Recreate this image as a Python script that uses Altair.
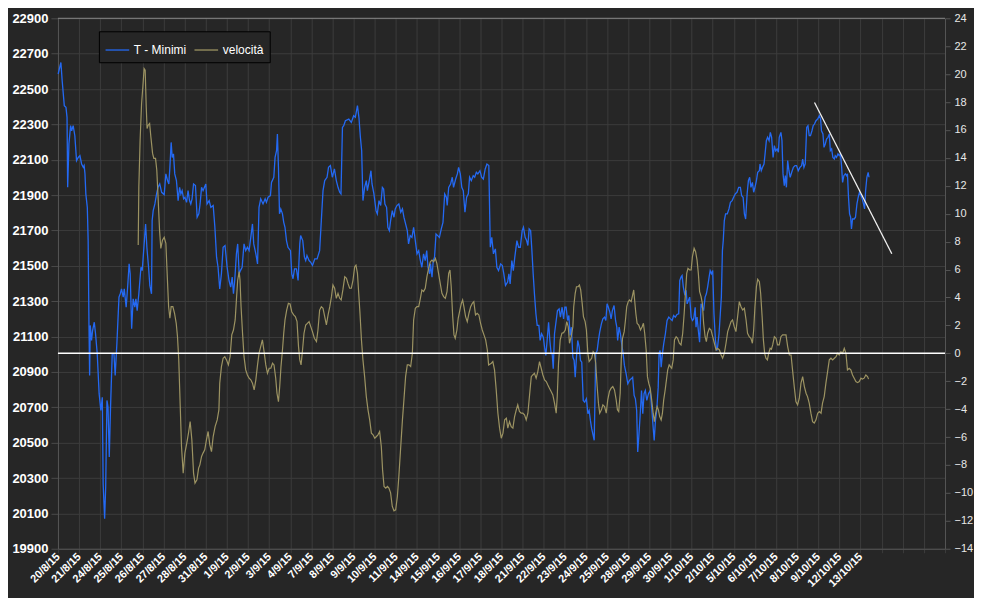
import altair as alt
import pandas as pd

FONT = "Liberation Sans"

# x-axis day labels (one per trading day; last four slots empty)
day_labels = ["20/8/15", "21/8/15", "24/8/15", "25/8/15", "26/8/15", "27/8/15", "28/8/15",
              "31/8/15", "1/9/15", "2/9/15", "3/9/15", "4/9/15", "7/9/15", "8/9/15", "9/9/15",
              "10/9/15", "11/9/15", "14/9/15", "15/9/15", "16/9/15", "17/9/15", "18/9/15",
              "21/9/15", "22/9/15", "23/9/15", "24/9/15", "25/9/15", "28/9/15", "29/9/15",
              "30/9/15", "1/10/15", "2/10/15", "5/10/15", "6/10/15", "7/10/15", "8/10/15",
              "9/10/15", "12/10/15", "13/10/15", "", "", "", ""]

# T - Minimi: (day position, value)
minimi = [
    (0.01, 22585), (0.14, 22650), (0.20, 22547), (0.30, 22406), (0.38, 22396), (0.43, 22340), (0.46, 21944),
    (0.52, 22189), (0.60, 22293), (0.65, 22264), (0.72, 22293), (0.80, 22236), (0.88, 22095), (0.96, 22113),
    (1.04, 22123), (1.12, 22076), (1.20, 22057), (1.24, 22067), (1.28, 22020), (1.32, 21907), (1.39, 21831),
    (1.43, 21643), (1.47, 21153), (1.50, 20880), (1.53, 21163), (1.59, 21078), (1.64, 21134), (1.72, 21181),
    (1.78, 21116), (1.86, 21003), (1.95, 20777), (2.03, 20682), (2.10, 20757), (2.14, 20268), (2.21, 20070),
    (2.26, 20249), (2.32, 20739), (2.37, 20701), (2.43, 20419), (2.49, 20701), (2.57, 21003), (2.65, 21003),
    (2.71, 20880), (2.79, 21059), (2.89, 21323), (2.95, 21342), (3.01, 21370), (3.09, 21323), (3.14, 21370),
    (3.23, 21266), (3.30, 21380), (3.37, 21511), (3.42, 21455), (3.49, 21144), (3.56, 21313), (3.64, 21266),
    (3.69, 21313), (3.75, 21247), (3.83, 21342), (3.93, 21492), (3.99, 21473), (4.07, 21605), (4.15, 21737),
    (4.21, 21605), (4.29, 21492), (4.35, 21389), (4.43, 21342), (4.46, 21756), (4.51, 21812), (4.59, 21850),
    (4.67, 21907), (4.74, 21944), (4.82, 21963), (4.91, 21916), (5.03, 21903), (5.11, 22020), (5.19, 21982),
    (5.25, 21963), (5.30, 22057), (5.36, 22198), (5.41, 22113), (5.47, 22133), (5.53, 22020), (5.61, 21982),
    (5.69, 21869), (5.76, 21944), (5.82, 21907), (5.88, 21925), (5.95, 21879), (6.01, 21888), (6.09, 21859),
    (6.16, 21925), (6.23, 21869), (6.29, 21850), (6.35, 21879), (6.42, 21963), (6.51, 21954), (6.59, 21775),
    (6.67, 21794), (6.73, 21850), (6.80, 21944), (6.87, 21925), (7.00, 21963), (7.06, 21850), (7.16, 21869),
    (7.24, 21831), (7.35, 21841), (7.43, 21718), (7.51, 21549), (7.58, 21492), (7.66, 21370), (7.74, 21455),
    (7.82, 21605), (7.91, 21615), (8.01, 21492), (8.10, 21417), (8.18, 21380), (8.25, 21436), (8.31, 21342),
    (8.37, 21417), (8.45, 21568), (8.51, 21624), (8.58, 21455), (8.64, 21473), (8.72, 21492), (8.81, 21624),
    (8.89, 21586), (8.97, 21605), (9.05, 21586), (9.13, 21661), (9.21, 21737), (9.27, 21624), (9.37, 21568),
    (9.45, 21511), (9.52, 21831), (9.60, 21879), (9.71, 21850), (9.81, 21879), (9.87, 21859), (9.95, 21888),
    (10.06, 21897), (10.11, 21972), (10.22, 22001), (10.28, 22113), (10.35, 22151), (10.39, 22246),
    (10.44, 22057), (10.49, 21794), (10.55, 21822), (10.63, 21794), (10.69, 21746), (10.75, 21718),
    (10.82, 21643), (10.89, 21605), (11.01, 21586), (11.07, 21455), (11.13, 21427), (11.20, 21483),
    (11.29, 21483), (11.37, 21417), (11.45, 21624), (11.49, 21671), (11.59, 21643), (11.67, 21549),
    (11.73, 21530), (11.79, 21558), (11.89, 21530), (11.97, 21520), (12.05, 21502), (12.16, 21539),
    (12.27, 21539), (12.39, 21586), (12.47, 21756), (12.55, 21925), (12.63, 21982), (12.74, 22001),
    (12.81, 22057), (12.90, 22067), (12.99, 22001), (13.09, 22048), (13.18, 21982), (13.26, 21944),
    (13.34, 21916), (13.40, 21907), (13.47, 22283), (13.53, 22293), (13.61, 22321), (13.77, 22330),
    (13.89, 22311), (14.00, 22349), (14.08, 22340), (14.18, 22406), (14.25, 22340), (14.32, 22227),
    (14.38, 22151), (14.44, 21869), (14.52, 21944), (14.60, 21982), (14.65, 21925), (14.74, 21982),
    (14.82, 22038), (14.87, 21963), (14.96, 21907), (15.06, 21812), (15.12, 21794), (15.20, 21869),
    (15.28, 21841), (15.36, 21944), (15.42, 21935), (15.48, 21850), (15.56, 21831), (15.62, 21718),
    (15.69, 21699), (15.75, 21756), (15.83, 21812), (15.91, 21775), (15.97, 21822), (16.05, 21841),
    (16.14, 21850), (16.23, 21803), (16.31, 21822), (16.38, 21775), (16.46, 21737), (16.54, 21699),
    (16.60, 21624), (16.68, 21671), (16.76, 21661), (16.84, 21718), (16.92, 21643), (17.00, 21568),
    (17.08, 21586), (17.16, 21530), (17.23, 21492), (17.31, 21568), (17.39, 21530), (17.46, 21586),
    (17.52, 21492), (17.60, 21455), (17.64, 21511), (17.71, 21436), (17.77, 21530), (17.83, 21549),
    (17.90, 21680), (17.98, 21671), (18.06, 21661), (18.15, 21709), (18.23, 21746), (18.31, 21907),
    (18.39, 21888), (18.43, 21841), (18.50, 21944), (18.59, 21963), (18.67, 22001), (18.73, 21944),
    (18.83, 21991), (18.91, 22020), (18.97, 22057), (19.05, 22020), (19.12, 21944), (19.19, 21925),
    (19.27, 21803), (19.35, 21888), (19.43, 21907), (19.49, 22001), (19.57, 21982), (19.66, 22010),
    (19.73, 22001), (19.81, 22029), (19.88, 22020), (19.98, 22038), (20.06, 22001), (20.14, 21991),
    (20.23, 22048), (20.31, 22076), (20.40, 22067), (20.47, 21605), (20.54, 21661), (20.62, 21568),
    (20.71, 21596), (20.78, 21492), (20.86, 21473), (20.96, 21511), (21.04, 21502), (21.11, 21455),
    (21.19, 21389), (21.29, 21408), (21.35, 21455), (21.41, 21398), (21.49, 21530), (21.56, 21473),
    (21.63, 21549), (21.73, 21643), (21.81, 21605), (21.89, 21605), (21.98, 21699), (22.04, 21718),
    (22.12, 21661), (22.19, 21643), (22.25, 21615), (22.31, 21709), (22.38, 21699), (22.44, 21586),
    (22.50, 21455), (22.56, 21342), (22.63, 21229), (22.69, 21163), (22.77, 21163), (22.83, 21078),
    (22.90, 21116), (22.98, 21097), (23.04, 21040), (23.10, 20993), (23.16, 21078), (23.23, 21181),
    (23.29, 21078), (23.35, 21003), (23.40, 21003), (23.45, 20918), (23.51, 21116), (23.59, 21191),
    (23.65, 21247), (23.73, 21257), (23.79, 21210), (23.87, 21266), (23.94, 21200), (24.00, 21266),
    (24.06, 21266), (24.13, 21191), (24.19, 21219), (24.25, 21106), (24.31, 21153), (24.38, 20983),
    (24.44, 20965), (24.49, 20870), (24.55, 20983), (24.61, 21078), (24.68, 21040), (24.74, 20965),
    (24.80, 20955), (24.87, 20739), (24.94, 20729), (25.02, 20748), (25.09, 20664), (25.15, 20682),
    (25.21, 20626), (25.27, 20579), (25.34, 20541), (25.39, 20513), (25.43, 20777), (25.46, 21003),
    (25.53, 21021), (25.59, 21078), (25.65, 21125), (25.73, 21172), (25.80, 21200), (25.88, 21210),
    (25.94, 21191), (26.00, 21285), (26.06, 21266), (26.13, 21238), (26.19, 21200), (26.25, 21247),
    (26.33, 21276), (26.40, 21191), (26.46, 21153), (26.50, 21078), (26.57, 21153), (26.63, 21116),
    (26.69, 21059), (26.76, 21003), (26.82, 20937), (26.90, 20890), (26.98, 20833), (27.06, 20852),
    (27.14, 20861), (27.21, 20870), (27.28, 20767), (27.34, 20748), (27.40, 20682), (27.45, 20447),
    (27.50, 20532), (27.56, 20645), (27.63, 20795), (27.69, 20664), (27.75, 20777), (27.81, 20795),
    (27.88, 20739), (27.96, 20777), (28.04, 20795), (28.11, 20701), (28.18, 20588), (28.23, 20513),
    (28.29, 20626), (28.35, 20682), (28.42, 20814), (28.46, 21003), (28.51, 21021), (28.56, 20927),
    (28.62, 21003), (28.68, 21059), (28.76, 21116), (28.84, 21191), (28.92, 21210), (29.00, 21200),
    (29.08, 21191), (29.15, 21219), (29.23, 21210), (29.31, 21225), (29.39, 21229), (29.44, 21417),
    (29.50, 21436), (29.55, 21445), (29.61, 21380), (29.67, 21342), (29.74, 21361), (29.79, 21285),
    (29.85, 21304), (29.91, 21323), (29.98, 21210), (30.04, 21191), (30.10, 21200), (30.17, 21266),
    (30.21, 21153), (30.26, 21210), (30.32, 21134), (30.38, 21068), (30.45, 21285), (30.51, 21266),
    (30.57, 21247), (30.64, 21323), (30.70, 21342), (30.76, 21380), (30.83, 21436), (30.88, 21473),
    (30.94, 21455), (31.00, 21473), (31.06, 21229), (31.13, 21078), (31.19, 21021), (31.23, 21040),
    (31.30, 21116), (31.36, 21229), (31.41, 21323), (31.46, 21586), (31.50, 21643), (31.55, 21756),
    (31.61, 21794), (31.69, 21794), (31.77, 21822), (31.84, 21859), (31.92, 21869), (31.99, 21888),
    (32.07, 21907), (32.15, 21916), (32.23, 21944), (32.31, 21944), (32.37, 21897), (32.44, 21888),
    (32.50, 21794), (32.56, 21765), (32.63, 21907), (32.69, 21982), (32.75, 22001), (32.81, 21944),
    (32.88, 21972), (32.94, 21916), (33.00, 21944), (33.07, 21982), (33.13, 22029), (33.21, 22038),
    (33.24, 22076), (33.30, 22038), (33.36, 22057), (33.43, 22076), (33.48, 22133), (33.54, 22208),
    (33.60, 22227), (33.67, 22208), (33.73, 22255), (33.79, 22227), (33.86, 22113), (33.92, 22180),
    (33.98, 22151), (34.05, 22161), (34.11, 22142), (34.15, 22227), (34.23, 22255), (34.28, 22208),
    (34.33, 22020), (34.39, 21954), (34.44, 22010), (34.49, 21944), (34.55, 22095), (34.61, 22038),
    (34.67, 22001), (34.74, 22029), (34.82, 22057), (34.90, 22067), (34.97, 22067), (35.05, 22038),
    (35.13, 22057), (35.21, 22067), (35.26, 22104), (35.32, 22057), (35.38, 22076), (35.45, 22283),
    (35.51, 22293), (35.57, 22236), (35.63, 22236), (35.70, 22264), (35.76, 22293), (35.82, 22302),
    (35.89, 22321), (35.97, 22330), (36.05, 22349), (36.11, 22330), (36.15, 22264), (36.22, 22246),
    (36.27, 22170), (36.33, 22189), (36.39, 22217), (36.46, 22227), (36.52, 22246), (36.57, 22151),
    (36.63, 22161), (36.69, 22113), (36.76, 22104), (36.80, 22123), (36.86, 22113), (36.93, 22133),
    (36.99, 22123), (37.05, 22133), (37.10, 22067), (37.15, 21972), (37.21, 22010), (37.28, 22020),
    (37.34, 22010), (37.38, 22020), (37.43, 21888), (37.48, 21794), (37.53, 21775), (37.57, 21709),
    (37.62, 21765), (37.70, 21765), (37.76, 21775), (37.83, 21850), (37.89, 21888), (37.95, 21916),
    (38.02, 21897), (38.08, 21879), (38.14, 21850), (38.19, 21822), (38.24, 21925), (38.30, 22001),
    (38.36, 22029), (38.40, 22001),
]

# velocità: (day position, value)
velocita = [
    (3.80, 7.76), (3.83, 11.93), (3.89, 15.27), (3.96, 17.9), (4.02, 19.1), (4.08, 20.4), (4.13, 20.28),
    (4.18, 17.65), (4.22, 16.1), (4.27, 16.34), (4.34, 16.46), (4.40, 15.5), (4.48, 14.32), (4.54, 13.96),
    (4.62, 13.96), (4.68, 13.12), (4.74, 11.21), (4.81, 8.83), (4.87, 7.52), (4.95, 8.11), (5.03, 8.31),
    (5.11, 7.88), (5.17, 5.73), (5.24, 3.34), (5.30, 2.51), (5.36, 3.34), (5.44, 3.34), (5.52, 2.87),
    (5.60, 2.15), (5.66, 1.19), (5.72, -0.47), (5.79, -3.81), (5.85, -6.68), (5.93, -8.58), (6.01, -7.15),
    (6.10, -6.43), (6.18, -5.72), (6.26, -4.89), (6.34, -6.2), (6.42, -8.58), (6.49, -9.3), (6.58, -9.06),
    (6.66, -8.22), (6.72, -7.99), (6.80, -7.39), (6.87, -7.15), (6.95, -6.91), (7.03, -6.2), (7.11, -5.6),
    (7.19, -6.56), (7.27, -7.04), (7.35, -5.96), (7.44, -5.25), (7.54, -4.77), (7.62, -4.05), (7.66, -2.14),
    (7.74, -0.95), (7.82, -0.35), (7.90, -0.24), (7.98, -0.47), (8.07, -0.83), (8.15, -0.24), (8.23, 1.32),
    (8.31, 1.67), (8.39, 2.39), (8.45, 3.82), (8.51, 5.25), (8.58, 5.85), (8.62, 5.25), (8.67, 3.34),
    (8.74, 1.44), (8.81, -0.24), (8.89, -1.19), (8.97, -1.55), (9.05, -1.78), (9.13, -1.9), (9.21, -2.14),
    (9.29, -2.62), (9.37, -1.9), (9.45, -0.83), (9.52, 0.0), (9.60, 0.48), (9.68, 0.96), (9.76, 0.12),
    (9.84, -0.83), (9.92, -1.43), (10.00, -1.07), (10.08, -1.07), (10.16, -0.71), (10.23, -0.83),
    (10.31, -1.78), (10.37, -2.86), (10.44, -3.46), (10.50, -2.38), (10.56, -0.95), (10.63, 0.24),
    (10.69, 1.44), (10.75, 2.39), (10.83, 3.1), (10.91, 3.58), (10.99, 3.53), (11.07, 2.98), (11.16, 2.75),
    (11.24, 2.63), (11.32, 2.27), (11.39, 0.48), (11.45, -0.47), (11.51, -0.83), (11.58, 0.24), (11.65, 1.44),
    (11.73, 2.03), (11.81, 2.15), (11.89, 2.27), (11.97, 1.91), (12.05, 1.55), (12.14, 1.08), (12.24, 0.84),
    (12.31, 1.67), (12.39, 3.1), (12.47, 3.34), (12.55, 3.22), (12.63, 2.63), (12.71, 2.03), (12.79, 2.75),
    (12.87, 3.34), (12.95, 4.06), (13.02, 4.89), (13.10, 4.66), (13.18, 3.94), (13.26, 4.3), (13.34, 3.94),
    (13.41, 3.82), (13.49, 4.54), (13.58, 5.49), (13.66, 5.37), (13.73, 5.01), (13.81, 4.66), (13.89, 4.66),
    (13.97, 5.25), (14.05, 6.2), (14.11, 6.32), (14.18, 5.73), (14.24, 4.3), (14.30, 2.87), (14.37, 0.96),
    (14.44, -0.47), (14.52, -1.67), (14.60, -3.1), (14.68, -4.05), (14.76, -4.77), (14.84, -5.72),
    (14.92, -5.84), (15.00, -6.08), (15.08, -5.96), (15.15, -5.84), (15.23, -5.6), (15.31, -6.68),
    (15.37, -8.35), (15.44, -9.54), (15.52, -9.66), (15.60, -9.54), (15.67, -9.66), (15.75, -10.0),
    (15.83, -10.97), (15.91, -11.28), (15.99, -11.21), (16.07, -10.26), (16.14, -8.82), (16.23, -6.68),
    (16.31, -4.77), (16.38, -3.34), (16.46, -1.67), (16.54, -0.83), (16.62, -0.83), (16.70, -0.95),
    (16.78, 0.0), (16.84, 2.39), (16.92, 3.22), (17.00, 3.34), (17.08, 3.34), (17.16, 3.94), (17.23, 4.54),
    (17.31, 4.42), (17.39, 4.66), (17.47, 5.49), (17.55, 6.08), (17.63, 6.56), (17.71, 6.68), (17.79, 6.56),
    (17.87, 6.8), (17.94, 6.44), (18.02, 5.73), (18.10, 5.01), (18.18, 4.3), (18.26, 4.06), (18.34, 3.94),
    (18.42, 4.42), (18.50, 5.73), (18.56, 5.97), (18.62, 4.77), (18.69, 2.63), (18.75, 1.32), (18.81, 1.08),
    (18.89, 1.67), (18.95, 2.51), (19.03, 3.1), (19.10, 3.58), (19.16, 3.82), (19.22, 3.34), (19.30, 2.63),
    (19.38, 2.27), (19.46, 2.87), (19.54, 3.34), (19.62, 3.58), (19.69, 3.7), (19.77, 2.75), (19.85, 2.87),
    (19.93, 2.75), (20.01, 2.15), (20.09, 1.67), (20.17, 1.32), (20.25, 0.96), (20.33, 0.24), (20.39, -0.83),
    (20.52, -0.71), (20.59, -0.59), (20.67, -1.19), (20.75, -2.62), (20.83, -4.29), (20.91, -5.36),
    (20.99, -6.08), (21.07, -5.72), (21.15, -4.77), (21.23, -4.65), (21.30, -5.36), (21.38, -4.89),
    (21.46, -5.25), (21.54, -5.36), (21.62, -4.53), (21.70, -4.05), (21.77, -3.69), (21.85, -4.17),
    (21.93, -4.29), (22.01, -4.29), (22.09, -4.41), (22.17, -4.77), (22.25, -4.29), (22.33, -2.98),
    (22.41, -1.67), (22.48, -1.55), (22.56, -1.43), (22.64, -1.78), (22.72, -1.31), (22.80, -0.59),
    (22.88, -1.07), (22.96, -1.55), (23.04, -1.9), (23.12, -2.02), (23.19, -2.26), (23.27, -2.5),
    (23.35, -2.74), (23.43, -2.98), (23.51, -3.57), (23.59, -4.29), (23.64, -3.1), (23.70, -0.71),
    (23.78, 0.96), (23.86, 1.44), (23.94, 1.48), (24.02, 1.67), (24.09, 2.27), (24.16, 1.91), (24.22, 0.72),
    (24.30, 1.19), (24.38, 1.91), (24.42, 3.34), (24.49, 4.3), (24.55, 4.77), (24.63, 4.77), (24.69, 4.89),
    (24.75, 4.54), (24.82, 3.58), (24.88, 2.63), (24.96, 2.27), (25.02, 1.67), (25.09, 0.0), (25.15, -0.59),
    (25.21, -0.47), (25.27, -0.35), (25.34, 0.12), (25.40, 0.0), (25.46, -0.71), (25.53, -2.38),
    (25.59, -3.57), (25.65, -4.29), (25.73, -4.05), (25.80, -3.69), (25.88, -3.81), (25.96, -4.29),
    (26.03, -3.34), (26.11, -2.74), (26.19, -2.5), (26.27, -2.38), (26.35, -2.62), (26.43, -3.34),
    (26.49, -4.05), (26.55, -4.17), (26.62, -2.86), (26.67, -0.47), (26.73, 1.08), (26.81, 1.55),
    (26.87, 2.39), (26.93, 3.34), (27.00, 3.7), (27.06, 3.82), (27.14, 3.7), (27.21, 4.18), (27.26, 4.54),
    (27.36, 2.87), (27.42, 2.15), (27.50, 2.03), (27.58, 1.67), (27.66, 1.91), (27.72, 2.15), (27.78, 1.44),
    (27.85, 0.24), (27.91, -1.67), (27.97, -2.14), (28.04, -2.5), (28.11, -3.34), (28.18, -4.29),
    (28.24, -4.89), (28.30, -4.29), (28.37, -3.81), (28.43, -4.05), (28.49, -4.53), (28.56, -4.77),
    (28.62, -4.29), (28.68, -3.34), (28.75, -2.62), (28.81, -1.9), (28.87, -1.19), (28.94, -0.83),
    (29.00, -0.95), (29.06, -1.07), (29.13, -0.47), (29.19, 0.96), (29.27, 1.19), (29.34, 1.08),
    (29.42, 0.72), (29.50, 0.6), (29.58, 1.44), (29.65, 2.87), (29.71, 4.3), (29.77, 5.73), (29.83, 6.08),
    (29.91, 5.97), (29.98, 5.97), (30.04, 6.92), (30.12, 7.52), (30.19, 7.28), (30.26, 6.68), (30.32, 5.73),
    (30.38, 4.42), (30.45, 4.06), (30.51, 3.58), (30.57, 2.15), (30.64, 1.19), (30.70, 0.84), (30.76, 1.44),
    (30.84, 1.79), (30.92, 1.67), (31.00, 1.19), (31.08, 0.72), (31.16, 0.24), (31.23, 0.36), (31.32, 0.24),
    (31.40, -0.12), (31.47, -0.35), (31.55, 0.0), (31.63, 0.72), (31.71, 1.55), (31.79, 1.91), (31.87, 2.27),
    (31.94, 2.39), (32.02, 1.91), (32.10, 1.55), (32.18, 2.63), (32.26, 3.7), (32.34, 3.34), (32.42, 3.1),
    (32.50, 3.22), (32.58, 2.39), (32.65, 1.44), (32.73, 1.19), (32.81, 1.08), (32.88, 0.72), (32.94, 1.67),
    (33.00, 3.34), (33.07, 4.77), (33.13, 5.3), (33.21, 5.13), (33.27, 4.3), (33.34, 2.63), (33.40, 0.96),
    (33.46, 0.0), (33.52, -0.35), (33.59, -0.47), (33.65, 0.0), (33.72, 0.36), (33.78, 0.29), (33.84, 0.6),
    (33.92, 1.19), (34.00, 1.08), (34.07, 0.6), (34.15, 0.6), (34.23, 1.19), (34.31, 1.32), (34.39, 1.32),
    (34.47, 1.32), (34.55, 0.48), (34.63, -0.12), (34.71, -0.12), (34.78, -1.19), (34.86, -2.38),
    (34.94, -3.46), (35.02, -3.69), (35.10, -3.22), (35.18, -2.14), (35.26, -1.67), (35.34, -2.38),
    (35.42, -2.86), (35.49, -3.1), (35.57, -3.57), (35.65, -4.29), (35.73, -4.89), (35.81, -5.0),
    (35.89, -4.77), (35.97, -4.29), (36.05, -4.17), (36.13, -4.29), (36.20, -3.57), (36.28, -3.1),
    (36.36, -2.14), (36.44, -1.31), (36.52, -0.47), (36.60, -0.35), (36.68, -0.47), (36.76, -0.35),
    (36.84, -0.24), (36.91, 0.0), (36.99, -0.12), (37.07, 0.12), (37.15, 0.0), (37.23, 0.36), (37.31, 0.0),
    (37.38, -1.19), (37.46, -1.07), (37.54, -1.19), (37.62, -1.55), (37.70, -1.78), (37.78, -2.02),
    (37.86, -2.1), (37.94, -2.02), (38.02, -1.78), (38.09, -1.85), (38.17, -1.78), (38.25, -1.55),
    (38.33, -1.67), (38.38, -1.85),
]

# hand-drawn trend line on T - Minimi
trend = [(35.82, 22424), (39.48, 21568)]

series_names = ["T - Minimi", "velocità"]
series_colors = ["#2469f2", "#9c9362"]

left_ticks = list(range(19900, 22901, 200))
right_ticks = list(range(-14, 25, 2))
x_ticks = list(range(len(day_labels)))

df_min = pd.DataFrame(minimi, columns=["giorno", "valore"])
df_min["serie"] = series_names[0]
df_vel = pd.DataFrame(velocita, columns=["giorno", "valore"])
df_vel["serie"] = series_names[1]
df_trend = pd.DataFrame(trend, columns=["giorno", "valore"])
df_zero = pd.DataFrame({"valore": [0]})
df_top = pd.DataFrame({"valore": [22900]})

GRID = "#3c3c3c"
label_expr = "[" + ",".join("'" + s + "'" for s in day_labels) + "][datum.value]"

x_scale = alt.Scale(domain=[0, 42], nice=False, zero=False)
x_axis = alt.Axis(values=x_ticks, labelExpr=label_expr, labelAngle=315, labelAlign="right",
                  labelBaseline="middle", labelFont=FONT, labelFontSize=11, labelFontWeight="bold",
                  labelColor="#ffffff", labelPadding=2, labelOverlap=False, labelFlush=False,
                  tickSize=4, tickColor=GRID, grid=True, gridColor=GRID, domainColor="#555555",
                  title=None)
x_enc = alt.X("giorno:Q", scale=x_scale, axis=x_axis)

left_scale = alt.Scale(domain=[19900, 22900], nice=False, zero=False)
left_axis = alt.Axis(orient="left", values=left_ticks, format="d", labelFont=FONT, labelFontSize=13,
                     labelFontWeight="bold", labelColor="#ffffff", labelPadding=3, tickSize=7,
                     tickColor="#4a4a4a", grid=True, gridColor=GRID, domainColor="#555555",
                     title=None)
right_scale = alt.Scale(domain=[-14, 24], nice=False, zero=False)
right_axis = alt.Axis(orient="right", values=right_ticks, format="d", labelFont=FONT, labelFontSize=11,
                      labelColor="#e8e8e8", labelPadding=4, tickSize=5, tickColor="#555555",
                      grid=False, domainColor="#555555", title=None)

color_enc = alt.Color("serie:N", scale=alt.Scale(domain=series_names, range=series_colors),
                      legend=alt.Legend(title=None, orient="none", legendX=41, legendY=13,
                                        direction="horizontal", fillColor="#262626",
                                        strokeColor="#000000", padding=6, symbolType="stroke",
                                        symbolSize=560, symbolStrokeWidth=1.3,
                                        labelColor="#ffffff", labelFont=FONT, labelFontSize=12,
                                        labelOffset=4, columnPadding=5))

vel_line = alt.Chart(df_vel).mark_line(strokeWidth=1.2).encode(
    x=x_enc, y=alt.Y("valore:Q", scale=right_scale, axis=right_axis), color=color_enc)
zero_rule = alt.Chart(df_zero).mark_rule(color="#ffffff", strokeWidth=1.5).encode(
    y=alt.Y("valore:Q", scale=right_scale, axis=right_axis))

min_line = alt.Chart(df_min).mark_line(strokeWidth=1.3).encode(
    x=x_enc, y=alt.Y("valore:Q", scale=left_scale, axis=left_axis), color=color_enc)
trend_line = alt.Chart(df_trend).mark_line(color="#f0f0f0", strokeWidth=1.3).encode(
    x=x_enc, y=alt.Y("valore:Q", scale=left_scale, axis=left_axis))
top_rule = alt.Chart(df_top).mark_rule(color="#8a8a8a", strokeWidth=1).encode(
    y=alt.Y("valore:Q", scale=left_scale, axis=left_axis))

chart = alt.layer(
    alt.layer(min_line, trend_line, top_rule),
    alt.layer(vel_line, zero_rule),
).resolve_scale(y="independent").properties(
    width=888, height=531, background="#262626",
    padding={"left": 50, "top": 10, "right": 29, "bottom": 49},
    autosize=alt.AutoSizeParams(type="none"),
).configure_view(strokeWidth=0)

chart.save("out.html", embed_options={"renderer": "svg", "actions": False})
